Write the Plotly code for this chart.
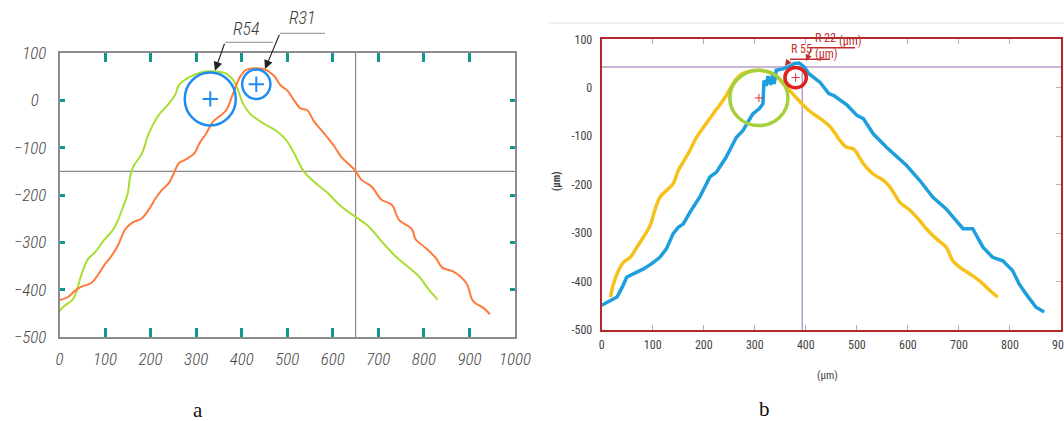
import plotly.graph_objects as go

W, H = 1064, 421

# ---------------- Panel a data ----------------
a_green_x = [0, 10, 29, 36, 47, 62, 77, 99, 118, 129, 140, 150, 155, 162, 181, 196, 218, 240, 255, 262,
             285, 314, 344, 367, 382, 392, 403, 418, 448, 478, 500, 515, 537, 559, 589, 618, 648, 678,
             707, 737, 759, 789, 811, 830]
a_green_y = [-445, -435, -421, -407, -372, -336, -322, -294, -273, -252, -224, -196, -161, -140, -112, -70,
             -31, -7, 14, 32, 49, 60, 61, 56, 42, 21, -7, -28, -49, -66, -87, -112, -151, -172, -196, -224,
             -245, -266, -298, -329, -347, -372, -400, -421]
a_orange_x = [0, 18, 33, 47, 70, 85, 99, 114, 129, 144, 159, 181, 196, 211, 225, 240, 251, 262, 277, 296,
              307, 322, 337, 355, 366, 381, 396, 411, 448, 470, 485, 500, 515, 529, 544, 559, 581, 604, 618,
              648, 663, 685, 707, 730, 745, 774, 782, 804, 826, 841, 863, 893, 908, 930, 945]
a_orange_y = [-422, -416, -403, -394, -386, -368, -347, -329, -305, -273, -259, -249, -231, -207, -189, -175,
              -154, -133, -125, -112, -91, -70, -45, -31, -21, 14, 49, 65, 66, 53, 32, 21, 0, -17, -21, -45,
              -70, -98, -119, -147, -168, -182, -210, -221, -252, -273, -294, -312, -333, -354, -361, -386,
              -424, -438, -452]
a_circle_cx = [331, 432]
a_circle_cy = [3, 34]
a_circle_r = [56, 31]
a_circle_labels = ["R54", "R31"]
a_xticks = list(range(0, 1001, 100))
a_yticks = list(range(-500, 101, 100))
a_yticktext = ["\u2212500", "\u2212400", "\u2212300", "\u2212200", "\u2212100", "0\u00a0\u00a0", "100"]
a_xminor = list(range(100, 901, 100))
a_yminor = list(range(-400, 1, 100))
a_hline = -150
a_vline = 650

# ---------------- Panel b data ----------------
b_yellow_x = [17, 23, 33, 43, 56, 69, 82, 95, 104, 114, 127, 140, 150, 160, 173, 186, 202, 218, 231, 244,
              257, 270, 290, 309, 327, 340, 359, 380, 406, 430, 448, 467, 480, 493, 513, 532, 552, 565, 584,
              604, 623, 636, 656, 675, 688, 701, 721, 740, 760, 776]
b_yellow_y = [-432, -405, -377, -360, -350, -329, -308, -284, -253, -226, -212, -198, -171, -153, -129, -102,
              -78, -54, -36, -16, 8, 25, 34, 36, 32, 25, 5, -19, -47, -65, -81, -109, -123, -126, -157, -178,
              -191, -205, -236, -253, -274, -291, -312, -329, -357, -370, -384, -398, -418, -432]
b_blue_x = [0, 17, 30, 40, 49, 62, 82, 98, 114, 127, 140, 150, 160, 173, 192, 212, 225, 244, 264, 277, 296,
            309, 316, 318, 322, 326, 331, 335, 338, 342, 355, 368, 377, 387, 397, 406, 428, 445, 455, 481, 500,
            513, 532, 558, 584, 597, 623, 649, 675, 695, 708, 727, 747, 766, 786, 805, 818, 831, 851, 867]
b_blue_y = [-449, -439, -432, -412, -391, -384, -374, -363, -350, -332, -301, -288, -281, -257, -226, -184,
            -174, -143, -102, -88, -54, -43, -33, 15, 4, 24, 6, 26, 8, 36, 39, 44, 50, 51, 43, 29, 11, -12,
            -16, -36, -57, -64, -95, -123, -147, -160, -191, -226, -250, -274, -291, -291, -329, -350, -357,
            -377, -405, -425, -453, -463]
b_circle_cx = [308, 380]
b_circle_cy = [-21, 21]
b_circle_r = [57, 21]
b_circle_colors = ["#a6cf3c", "#e0221e"]
b_circle_labels = ["R 55", "R 22"]
b_xticks = list(range(0, 901, 100))
b_xticktext = [str(v) for v in b_xticks]
b_yticks = list(range(-500, 101, 100))
b_yticktext = [str(v) for v in b_yticks]
b_yminor = list(range(-400, 1, 100))
b_hline = 43
b_vline = 393

# ---------------- styling ----------------
NARROW = "Roboto Condensed, Liberation Sans Narrow, DejaVu Sans Condensed, Liberation Sans, sans-serif"
GREY_TXT = "#474747"


def pxx(x):
    return x / W


def pxy(y):
    return 1 - y / H


a_dom_x = [pxx(59.5), pxx(515)]
a_dom_y = [pxy(337), pxy(53)]
b_dom_x = [pxx(601.7), pxx(1061)]
b_dom_y = [pxy(330), pxy(39.3)]

fig = go.Figure()

# panel a curves
fig.add_trace(go.Scatter(x=a_green_x, y=a_green_y, mode="lines", line=dict(color="#a9de2f", width=2),
                         line_shape="spline", xaxis="x", yaxis="y", showlegend=False, hoverinfo="skip"))
fig.add_trace(go.Scatter(x=a_orange_x, y=a_orange_y, mode="lines", line=dict(color="#ff7a3a", width=2),
                         line_shape="spline", xaxis="x", yaxis="y", showlegend=False, hoverinfo="skip"))
fig.add_trace(go.Scatter(x=a_circle_cx, y=a_circle_cy, mode="markers",
                         marker=dict(symbol="cross-thin", size=11, line=dict(color="#1e8cf0", width=2)),
                         xaxis="x2", yaxis="y2", showlegend=False, hoverinfo="skip"))

# panel b curves
fig.add_trace(go.Scatter(x=b_yellow_x, y=b_yellow_y, mode="lines", line=dict(color="#f6c11a", width=3.5),
                         line_shape="spline", xaxis="x3", yaxis="y3", showlegend=False, hoverinfo="skip"))
fig.add_trace(go.Scatter(x=b_blue_x, y=b_blue_y, mode="lines", line=dict(color="#1c9fdc", width=3.5),
                         xaxis="x3", yaxis="y3", showlegend=False, hoverinfo="skip"))
fig.add_trace(go.Scatter(x=b_circle_cx, y=b_circle_cy, mode="markers",
                         marker=dict(symbol="cross-thin", size=6, line=dict(color="#e03030", width=1)),
                         xaxis="x3", yaxis="y4", showlegend=False, hoverinfo="skip"))

shapes = []
# panel a crosshair
shapes.append(dict(type="line", xref="x", yref="y", x0=0, x1=1000, y0=a_hline, y1=a_hline,
                   line=dict(color="#8a8a8a", width=1.2), layer="below"))
shapes.append(dict(type="line", xref="x", yref="y", x0=a_vline, x1=a_vline, y0=-500, y1=100,
                   line=dict(color="#8a8a8a", width=1.2), layer="below"))
# panel a circles
for cx, cy, r in zip(a_circle_cx, a_circle_cy, a_circle_r):
    shapes.append(dict(type="circle", xref="x", yref="y", x0=cx - r, x1=cx + r, y0=cy - r, y1=cy + r,
                       line=dict(color="#1e8cf0", width=2.5)))
# panel a leader lines
shapes.append(dict(type="line", xref="paper", yref="paper", x0=pxx(225), x1=pxx(273), y0=pxy(42.3),
                   y1=pxy(42.3), line=dict(color="#8c8c8c", width=1)))
shapes.append(dict(type="line", xref="paper", yref="paper", x0=pxx(280), x1=pxx(325), y0=pxy(33.3),
                   y1=pxy(33.3), line=dict(color="#8c8c8c", width=1)))

# panel b purple cursor lines
shapes.append(dict(type="line", xref="x3", yref="y3", x0=0, x1=900, y0=b_hline, y1=b_hline,
                   line=dict(color="#b89cc8", width=1.5), layer="below"))
shapes.append(dict(type="line", xref="x3", yref="y3", x0=b_vline, x1=b_vline, y0=-500, y1=b_hline,
                   line=dict(color="#b89cc8", width=1.5), layer="below"))
# panel b circles
for cx, cy, r, c in zip(b_circle_cx, b_circle_cy, b_circle_r, b_circle_colors):
    shapes.append(dict(type="circle", xref="x3", yref="y3", x0=cx - r, x1=cx + r, y0=cy - r, y1=cy + r,
                       line=dict(color=c, width=3.5)))
# panel b leader underlines
shapes.append(dict(type="line", xref="paper", yref="paper", x0=pxx(810), x1=pxx(855), y0=pxy(47.7),
                   y1=pxy(47.7), line=dict(color="#c0302e", width=1.5)))
shapes.append(dict(type="line", xref="paper", yref="paper", x0=pxx(790), x1=pxx(830), y0=pxy(59.3),
                   y1=pxy(59.3), line=dict(color="#c0302e", width=1.5)))
# faint top line of panel b screenshot
shapes.append(dict(type="line", xref="paper", yref="paper", x0=pxx(549), x1=1, y0=pxy(23), y1=pxy(23),
                   line=dict(color="#ececec", width=1.5)))

annotations = []


def label(txt, x, y, font, angle=0):
    annotations.append(dict(text=txt, xref="paper", yref="paper", x=pxx(x), y=pxy(y), showarrow=False,
                            xanchor="center", yanchor="middle", textangle=angle, font=font))


def arrow(hx, hy, tx, ty, color, size, width):
    annotations.append(dict(text="", xref="paper", yref="paper", x=pxx(hx), y=pxy(hy), ax=tx - hx,
                            ay=ty - hy, showarrow=True, arrowhead=2, arrowsize=size, arrowwidth=width,
                            arrowcolor=color, xanchor="center", yanchor="middle"))


# panel a radius labels and arrows
for lbl, (tx, ty) in zip(a_circle_labels, [(246.5, 28.5), (302, 17.5)]):
    label(lbl, tx, ty, dict(family=NARROW, size=18, color="#3a3a3a", style="italic", weight=300))
arrow(215, 70.7, 225, 42.3, "#222222", 1.6, 1.1)
arrow(265, 69, 280, 33.3, "#222222", 1.6, 1.1)

# panel b radius labels and arrows
red = "#c0302e"
rfont = dict(family=NARROW, size=12, color=red)
label(b_circle_labels[1], 825, 38.5, rfont)
label("(μm)", 850, 41, rfont)
label(b_circle_labels[0], 801, 49, rfont)
label("(μm)", 826, 54.5, rfont)
arrow(806, 61, 812, 47.7, red, 1, 1.3)
arrow(785, 66, 790, 59.3, red, 1, 1.3)

# panel b axis titles
label("(μm)", 827, 375, dict(family=NARROW, size=11, color="#444444"))
label("<b>(μm)</b>", 557, 182, dict(family=NARROW, size=10, color="#444444"), angle=-90)

# panel captions
capfont = dict(family="Liberation Serif, Times New Roman, serif", size=21, color="#111111")
label("a", 198, 410, capfont)
label("b", 764, 409, capfont)

a_tickfont = dict(family=NARROW, size=17, color=GREY_TXT, style="italic", weight=300)
b_tickfont = dict(family=NARROW, size=12, color="#444444")
TEAL = "#10978f"

fig.update_layout(
    width=W, height=H, margin=dict(l=0, r=0, t=0, b=0, pad=0, autoexpand=False),
    paper_bgcolor="white", plot_bgcolor="rgba(0,0,0,0)",
    showlegend=False,
    xaxis=dict(domain=a_dom_x, anchor="y", range=[0, 1000], tickvals=a_xticks, ticks="",
               showline=True, linecolor="#8c8c8c", linewidth=1.5, mirror=True, showgrid=False,
               zeroline=False, tickfont=a_tickfont, ticklabelstandoff=6, ticklabeloverflow="allow"),
    yaxis=dict(domain=a_dom_y, anchor="x", range=[-500, 100], tickvals=a_yticks, ticktext=a_yticktext,
               ticks="", showline=True, linecolor="#8c8c8c", linewidth=1.5, mirror=True, showgrid=False,
               zeroline=False, tickfont=a_tickfont, ticklabelstandoff=8),
    xaxis2=dict(overlaying="x", anchor="y2", range=[0, 1000], tickvals=a_xminor, ticks="inside",
                ticklen=9, tickwidth=3, tickcolor=TEAL, mirror="ticks", showline=False,
                showticklabels=False, showgrid=False, zeroline=False),
    yaxis2=dict(overlaying="y", anchor="x2", range=[-500, 100], tickvals=a_yminor, ticks="inside",
                ticklen=5, tickwidth=3, tickcolor=TEAL, mirror="ticks", showline=False,
                showticklabels=False, showgrid=False, zeroline=False),
    xaxis3=dict(domain=b_dom_x, anchor="y3", range=[0, 900], tickvals=b_xticks, ticktext=b_xticktext,
                ticks="inside", ticklen=5, tickwidth=1, tickcolor="#b0b0b0", showline=True,
                linecolor="#b5282a", linewidth=2, mirror="ticks", showgrid=False, zeroline=False,
                tickfont=b_tickfont, ticklabelstandoff=3, ticklabeloverflow="allow"),
    yaxis3=dict(domain=b_dom_y, anchor="x3", range=[-500, 100], tickvals=b_yticks, ticktext=b_yticktext,
                ticks="", showline=True, linecolor="#b5282a", linewidth=2, mirror=True, showgrid=False,
                zeroline=False, tickfont=b_tickfont, ticklabelstandoff=5),
    yaxis4=dict(overlaying="y3", anchor="x3", side="right", range=[-500, 100], tickvals=b_yminor,
                ticks="inside", ticklen=5, tickwidth=1, tickcolor="#b0b0b0", showline=False,
                showticklabels=False, showgrid=False, zeroline=False),
    shapes=shapes,
    annotations=annotations,
)

fig.write_html("out.html", config={"displayModeBar": False},
               post_script="document.body.style.margin='0px'; document.body.style.overflow='hidden';")
